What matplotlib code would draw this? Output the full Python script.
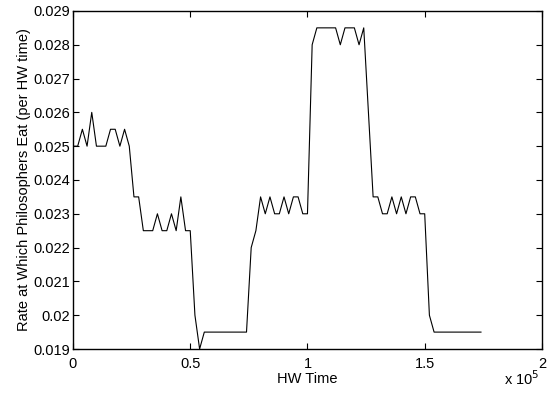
import matplotlib.pyplot as plt
import numpy as np
from matplotlib.ticker import FuncFormatter

plt.rcParams['font.family'] = ['Liberation Sans', 'DejaVu Sans']

# eating rate sampled every 2000 HW time units (0 .. 174000)
rate = [0.025, 0.025, 0.0255, 0.025, 0.026, 0.025, 0.025, 0.025, 0.0255, 0.0255,
        0.025, 0.0255, 0.025, 0.0235, 0.0235, 0.0225, 0.0225, 0.0225, 0.023, 0.0225,
        0.0225, 0.023, 0.0225, 0.0235, 0.0225, 0.0225, 0.020, 0.019, 0.0195, 0.0195,
        0.0195, 0.0195, 0.0195, 0.0195, 0.0195, 0.0195, 0.0195, 0.0195, 0.022, 0.0225,
        0.0235, 0.023, 0.0235, 0.023, 0.023, 0.0235, 0.023, 0.0235, 0.0235, 0.023,
        0.023, 0.028, 0.0285, 0.0285, 0.0285, 0.0285, 0.0285, 0.028, 0.0285, 0.0285,
        0.0285, 0.028, 0.0285, 0.026, 0.0235, 0.0235, 0.023, 0.023, 0.0235, 0.023,
        0.0235, 0.023, 0.0235, 0.0235, 0.023, 0.023, 0.020, 0.0195, 0.0195, 0.0195,
        0.0195, 0.0195, 0.0195, 0.0195, 0.0195, 0.0195, 0.0195, 0.0195]
hw_time = np.arange(len(rate)) * 2000  # sample grid

x_ticks = [0, 50000, 100000, 150000, 200000]
y_ticks = [0.019, 0.020, 0.021, 0.022, 0.023, 0.024, 0.025, 0.026, 0.027, 0.028, 0.029]
y_labels = ['0.019', '0.02', '0.021', '0.022', '0.023', '0.024', '0.025',
            '0.026', '0.027', '0.028', '0.029']

fig = plt.figure(figsize=(5.53, 3.94), dpi=100)
ax = fig.add_axes([0.132, 0.1142, 0.848, 0.858])

ax.plot(hw_time, rate, color='black', linewidth=0.8)

ax.set_xlim(0, 200000)
ax.set_ylim(0.019, 0.029)
ax.set_xticks(x_ticks)
ax.xaxis.set_major_formatter(FuncFormatter(lambda v, p: '%g' % (v / 1e5)))
ax.set_yticks(y_ticks)
ax.set_yticklabels(y_labels)

ax.tick_params(direction='in', top=True, right=True, length=4, width=0.8,
               labelsize=10.5)
ax.tick_params(axis='x', pad=5.5)
ax.tick_params(axis='y', pad=2)
for s in ax.spines.values():
    s.set_linewidth(1.0)

ax.set_xlabel('HW Time', fontsize=10.5, labelpad=1)
ax.set_ylabel('Rate at Which Philosophers Eat (per HW time)', fontsize=10.5, labelpad=2)
# multiplier for the x axis, MATLAB style
ax.text(0.9957, -0.107, r'x 10$^5$', transform=ax.transAxes, fontsize=10.5,
        ha='right', va='baseline')

fig.savefig('out.png', dpi=100)
